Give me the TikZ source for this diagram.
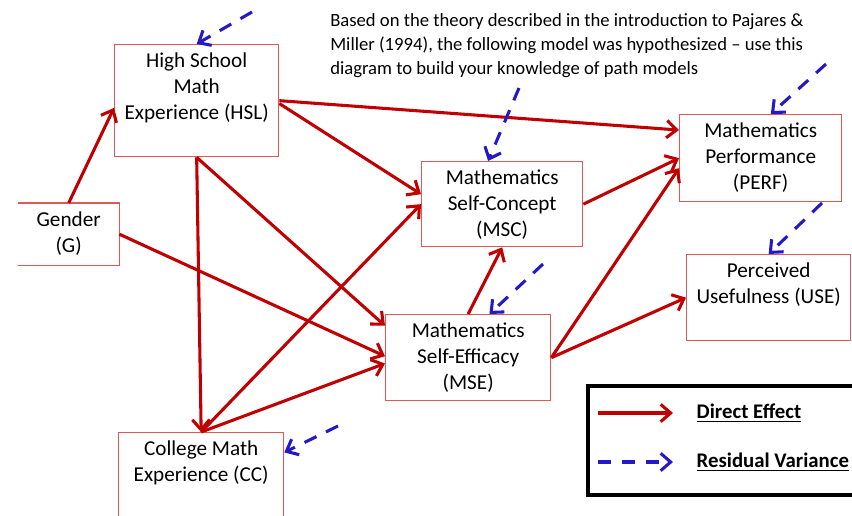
\documentclass[tikz,border=0pt]{standalone}
\usepackage{fontspec}
\setmainfont{Carlito}
\usetikzlibrary{arrows.meta}

\definecolor{pathred}{RGB}{192,0,0}
\definecolor{boxred}{RGB}{222,88,88}
\definecolor{resblue}{RGB}{36,24,200}
\newcommand{\varbox}[3]{\parbox[c][#2][t]{#1}{\centering\rule{0pt}{17pt}#3}}

\begin{document}
\begin{tikzpicture}[x=0.75pt, y=-0.75pt,
    var/.style={draw=boxred, line width=1pt, inner sep=0pt, anchor=north west,
      font=\fontsize{15.9}{19.5}\selectfont},
    direct/.style={draw=pathred, line width=2.3pt, -{Straight Barb[length=7.5pt,width=13pt]}},
    resid/.style={draw=resblue, line width=2.3pt, dash pattern=on 10pt off 8pt,
      -{Straight Barb[length=7.5pt,width=13pt]}},
    keytext/.style={font=\fontsize{15.6}{18}\selectfont\bfseries, anchor=west}
]
  \useasboundingbox (0,0) rectangle (852,515);
  % Variables
  \node[var] (hsl) at (114,44) {\varbox{123pt}{84pt}{High School\\ Math\\ Experience (HSL)}};
  \node[var, draw=none] (g) at (18,203) {\varbox{75pt}{45.75pt}{Gender\\ (G)}};
  \draw[boxred, line width=1pt] (g.north west) -- (g.north east) -- (g.south east) -- (g.south west);
  \node[var] (cc) at (118,432) {\varbox{123.75pt}{75pt}{College Math\\ Experience (CC)}};
  \node[var] (msc) at (421,161) {\varbox{120.75pt}{63.75pt}{Mathematics\\ Self-Concept\\ (MSC)}};
  \node[var] (mse) at (385,314) {\varbox{123.75pt}{64.5pt}{Mathematics\\ Self-Efficacy\\ (MSE)}};
  \node[var] (perf) at (679,114) {\varbox{121.5pt}{65.25pt}{Mathematics\\ Performance\\ (PERF)}};
  \node[var] (use) at (686,254) {\varbox{123pt}{64.5pt}{Perceived\\ Usefulness (USE)}};
  % Intro text
  \node[anchor=north west, align=left, inner sep=0pt, font=\fontsize{14}{18}\selectfont] (intro) at (330,13)
    {Based on the theory described in the introduction to Pajares \&\\
     Miller (1994), the following model was hypothesized -- use this\\
     diagram to build your knowledge of path models};
  % Direct effects
  \draw[direct] (g.north) -- (hsl.185);
  \draw[direct] (hsl.east) -- (perf.161);
  \draw[direct] (hsl.358) -- (msc.173);
  \draw[direct] (hsl.south) -- (cc.north);
  \draw[direct] (hsl.south) -- (mse.159);
  \draw[direct] (g.east) -- (mse.179);
  \draw[direct] (cc.north) -- (msc.west);
  \draw[direct] (cc.north) -- (mse.184);
  \draw[direct] (mse.north) -- (msc.south);
  \draw[direct] (msc.east) -- (perf.west);
  \draw[direct] (mse.east) -- (perf.187);
  \draw[direct] (mse.east) -- (use.west);
  % Residual variances
  \coordinate (rhsl) at (252,12);
  \coordinate (rmsc) at (519,88);
  \coordinate (rperf) at (826,64);
  \coordinate (ruse) at (822,203);
  \coordinate (rmse) at (543,264);
  \coordinate (rcc) at (338,426);
  \draw[resid] (rhsl) -- (hsl.north);
  \draw[resid] (rmsc) -- (msc.108);
  \draw[resid] (rperf) -- (perf.77);
  \draw[resid] (ruse) -- (use.north);
  \draw[resid] (rmse) -- (mse.64);
  \draw[resid] (rcc) -- (cc.20);
  % Key
  \node[draw, line width=3pt, anchor=north west, minimum width=215pt, minimum height=81.75pt] (key) at (586,384) {};
  \coordinate (d1) at (598,413);
  \coordinate (d2) at (673,413);
  \coordinate (r1) at (598,462);
  \coordinate (r2) at (673,462);
  \draw[direct] (d1) -- (d2);
  \draw[resid] (r1) -- (r2);
  \node[keytext] (dlab) at (692,413) {\underline{Direct Effect}};
  \node[keytext] (rlab) at (692,462) {\underline{Residual Variance}};
\end{tikzpicture}
\end{document}
